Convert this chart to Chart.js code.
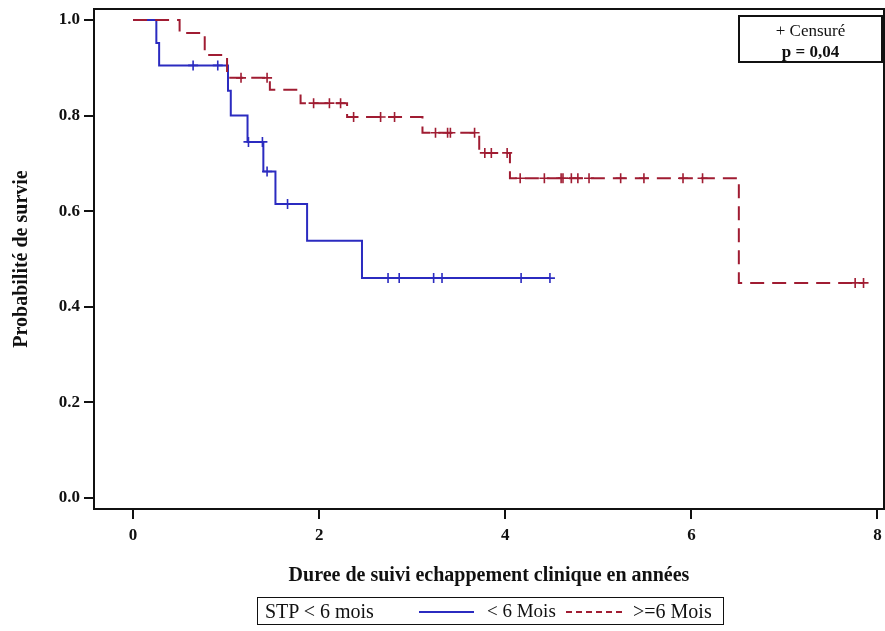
<!DOCTYPE html>
<html>
<head>
<meta charset="utf-8">
<script src="https://cdn.jsdelivr.net/npm/chart.js@4.4.1/dist/chart.umd.min.js"></script>
<style>
  html, body { margin: 0; padding: 0; background: #fff; }
  #wrap { position: relative; width: 885px; height: 631px; overflow: hidden; background: #fff; }
  #c { position: absolute; left: 0; top: 0; }
  .serif { font-family: "Liberation Serif", "DejaVu Serif", serif; color: #111; }
  #note { position: absolute; left: 738px; top: 15px; width: 141px; height: 44px; border: 2px solid #111; text-align: center; }
  #note .l1 { position: absolute; left: 0; right: 0; top: 4px; font-size: 17px; line-height: 20px; }
  #note .l2 { position: absolute; left: 0; right: 0; top: 25px; font-size: 17px; line-height: 20px; font-weight: bold; }
  #legend { position: absolute; left: 257px; top: 597px; width: 465px; height: 26px; border: 1.5px solid #111; }
  #legend span { position: absolute; top: 3px; font-size: 20px; line-height: 20px; white-space: nowrap; }
  #legend .ln { position: absolute; top: 13px; height: 0; }
</style>
</head>
<body>
<div id="wrap">
  <canvas id="c" width="885" height="631"></canvas>
  <div id="note" class="serif"><div class="l1">+ Censuré</div><div class="l2">p = 0,04</div></div>
  <div id="legend" class="serif">
    <span id="lgTitle" style="left:7px">STP &lt; 6 mois</span>
    <div class="ln" style="left:161px; width:55px; border-top:2px solid #2b2bc0;"></div>
    <span id="lg1" style="left:229px; font-size:19px">&lt; 6 Mois</span>
    <div class="ln" style="left:308px; width:56px; border-top:2px dashed #a01c32;"></div>
    <span id="lg2" style="left:375px">&gt;=6 Mois</span>
  </div>
</div>
<script>
// ---- Data (time in years, survival probability) ----
const blueTimes = [0, 0.25, 0.28, 1.02, 1.05, 1.23, 1.40, 1.53, 1.87, 2.46, 4.48];
const blueSurv  = [1.0, 0.952, 0.905, 0.852, 0.800, 0.745, 0.683, 0.615, 0.538, 0.460, 0.460];
const blueCensorTimes = [0.645, 0.91, 1.24, 1.39, 1.44, 1.66, 2.74, 2.86, 3.23, 3.32, 4.17, 4.48];
const blueCensorSurv  = [0.905, 0.905, 0.745, 0.745, 0.683, 0.615, 0.460, 0.460, 0.460, 0.460, 0.460, 0.460];

const redTimes = [0, 0.50, 0.77, 1.01, 1.47, 1.80, 2.30, 3.11, 3.72, 4.05, 6.51, 7.85];
const redSurv  = [1.0, 0.973, 0.927, 0.879, 0.854, 0.826, 0.797, 0.764, 0.722, 0.669, 0.450, 0.450];
const redCensorTimes = [1.16, 1.44, 1.94, 2.11, 2.23, 2.37, 2.66, 2.81, 3.25, 3.38, 3.41, 3.67, 3.78, 3.85, 4.02,
                        4.16, 4.42, 4.60, 4.62, 4.71, 4.78, 4.90, 5.24, 5.49, 5.91, 6.12, 7.76, 7.85];
const redCensorSurv  = [0.879, 0.879, 0.826, 0.826, 0.826, 0.797, 0.797, 0.797, 0.764, 0.764, 0.764, 0.764, 0.722, 0.722, 0.722,
                        0.669, 0.669, 0.669, 0.669, 0.669, 0.669, 0.669, 0.669, 0.669, 0.669, 0.669, 0.450, 0.450];

const xTickValues = [0, 2, 4, 6, 8];
const yTickValues = [0, 0.2, 0.4, 0.6, 0.8, 1.0];
const seriesNames = ['< 6 Mois', '>=6 Mois'];
const xTitle = 'Duree de suivi echappement clinique en années';
const yTitle = 'Probabilité de survie';

const BLUE = '#2b2bc0';
const RED = '#a01c32';
const pts = (xs, ys) => xs.map((x, i) => ({x: x, y: ys[i]}));

const framePlugin = {
  id: 'frame',
  afterDatasetsDraw(chart) {
    const {ctx, chartArea: a} = chart;
    ctx.save();
    ctx.strokeStyle = '#111';
    ctx.lineWidth = 2;
    ctx.strokeRect(a.left, a.top, a.right - a.left, a.bottom - a.top);
    ctx.restore();
  }
};

new Chart(document.getElementById('c'), {
  type: 'line',
  data: {
    datasets: [
      { label: seriesNames[1] + ' censure', type: 'scatter', data: pts(redCensorTimes, redCensorSurv),
        pointStyle: 'cross', pointRadius: 5, borderColor: RED, borderWidth: 1.6, showLine: false, order: 0 },
      { label: seriesNames[0] + ' censure', type: 'scatter', data: pts(blueCensorTimes, blueCensorSurv),
        pointStyle: 'cross', pointRadius: 5, borderColor: BLUE, borderWidth: 1.6, showLine: false, order: 1 },
      { label: seriesNames[1], data: pts(redTimes, redSurv), stepped: 'before', borderColor: RED,
        borderWidth: 2, borderDash: [14, 8], pointRadius: 0, fill: false, order: 2 },
      { label: seriesNames[0], data: pts(blueTimes, blueSurv), stepped: 'before', borderColor: BLUE,
        borderWidth: 2, pointRadius: 0, fill: false, order: 3 }
    ]
  },
  options: {
    responsive: false,
    animation: false,
    devicePixelRatio: 1,
    layout: { autoPadding: false, padding: { left: 0, top: 9, right: 1, bottom: 0 } },
    plugins: { legend: { display: false }, tooltip: { enabled: false } },
    scales: {
      x: {
        type: 'linear', min: -0.42, max: 8.07,
        afterBuildTicks: (s) => { s.ticks = xTickValues.map(v => ({value: v})); },
        afterFit: (s) => { s.height = 122; s.paddingLeft = 0; s.paddingRight = 0; },
        grid: { drawOnChartArea: false, drawTicks: true, tickLength: 10, color: '#111', lineWidth: 2 },
        border: { display: false },
        ticks: { color: '#111', font: { family: 'Liberation Serif', size: 17, weight: 'bold' }, padding: 6,
                 callback: (v) => String(v), maxRotation: 0 },
        title: { display: true, text: xTitle, color: '#111',
                 font: { family: 'Liberation Serif', size: 20, weight: 'bold' }, padding: { top: 0, bottom: 43 } }
      },
      y: {
        type: 'linear', min: -0.023, max: 1.023,
        afterBuildTicks: (s) => { s.ticks = yTickValues.map(v => ({value: v})); },
        afterFit: (s) => { s.width = 94; s.paddingTop = 0; s.paddingBottom = 0; },
        grid: { drawOnChartArea: false, drawTicks: true, tickLength: 10, color: '#111', lineWidth: 2 },
        border: { display: false },
        ticks: { color: '#111', font: { family: 'Liberation Serif', size: 17, weight: 'bold' }, padding: 4,
                 callback: (v) => Number(v).toFixed(1) },
        title: { display: true, text: yTitle, color: '#111',
                 font: { family: 'Liberation Serif', size: 20, weight: 'bold' }, padding: { top: 10, bottom: 0 } }
      }
    }
  },
  plugins: [framePlugin]
});
</script>
</body>
</html>
